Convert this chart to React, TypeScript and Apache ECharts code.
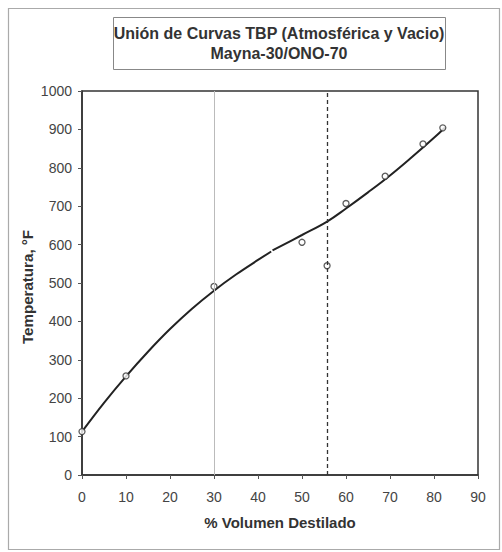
import React, { useEffect, useRef } from "react";
import * as echarts from "echarts";

// Observed TBP points (% volume distilled, temperature °F)
const pointX = [0, 10, 30, 50, 55.7, 60, 68.9, 77.5, 82];
const pointY = [113, 258, 491, 606, 545, 707, 778, 862, 904];

// Fitted curve – atmospheric part
const atmX = [0, 5, 10, 15, 20, 25, 30, 35, 40, 43];
const atmY = [113, 188, 257, 321, 380, 433, 480, 522, 560, 582];

// Fitted curve – vacuum part
const vacX = [43.3, 50, 55.7, 60, 65, 70, 75, 80, 82.5];
const vacY = [585, 625, 660, 694, 736, 780, 828, 878, 905];

const xTicks = [0, 10, 20, 30, 40, 50, 60, 70, 80, 90];
const yTicks = [0, 100, 200, 300, 400, 500, 600, 700, 800, 900, 1000];

const cutX = 55.7;
const refX = 30;

const FONT = "Liberation Sans, Arial, sans-serif";

export default function App() {
  const ref = useRef<HTMLDivElement>(null);
  useEffect(() => {
    document.body.style.margin = "0";
    const chart = echarts.init(ref.current!, null, { renderer: "svg" });
    const toPairs = (xs: number[], ys: number[]) => xs.map((x, i) => [x, ys[i]]);
    chart.setOption({
      animation: false,
      backgroundColor: "#ffffff",
      textStyle: { fontFamily: FONT },
      grid: {
        left: 82,
        top: 91,
        width: 396,
        height: 384,
        show: true,
        borderColor: "#333",
        borderWidth: 1.5,
        containLabel: false,
      },
      xAxis: {
        type: "value",
        min: xTicks[0],
        max: xTicks[xTicks.length - 1],
        interval: 10,
        name: "% Volumen Destilado",
        nameLocation: "middle",
        nameGap: 40,
        nameTextStyle: { fontFamily: FONT, fontSize: 15, fontWeight: "bold", color: "#333" },
        axisLine: { show: true, lineStyle: { color: "#333", width: 1.5 } },
        axisTick: { show: true, length: 4, lineStyle: { color: "#555" } },
        axisLabel: {
          fontFamily: FONT,
          fontSize: 14,
          color: "#444",
          margin: 15,
          formatter: (v: number) => String(v),
        },
        splitLine: { show: false },
      },
      yAxis: {
        type: "value",
        min: yTicks[0],
        max: yTicks[yTicks.length - 1],
        interval: 100,
        axisLine: { show: true, lineStyle: { color: "#333", width: 1.5 } },
        axisTick: { show: true, length: 4, lineStyle: { color: "#555" } },
        axisLabel: {
          fontFamily: FONT,
          fontSize: 14,
          color: "#444",
          margin: 10,
          formatter: (v: number) => String(v),
        },
        splitLine: { show: false },
      },
      graphic: [
        {
          type: "rect",
          shape: { x: 8.5, y: 8.5, width: 491, height: 541 },
          style: { fill: "none", stroke: "#aaa", lineWidth: 1.2 },
          silent: true,
        },
        {
          type: "rect",
          shape: { x: 113.5, y: 17.5, width: 332, height: 52 },
          style: { fill: "#fff", stroke: "#888", lineWidth: 1 },
          silent: true,
        },
        {
          type: "text",
          x: 279,
          y: 33,
          style: {
            text: "Unión de Curvas TBP (Atmosférica y Vacio)",
            fontFamily: FONT,
            fontSize: 16,
            fontWeight: "bold",
            fill: "#333",
            align: "center",
            verticalAlign: "middle",
          },
          silent: true,
        },
        {
          type: "text",
          x: 279,
          y: 53,
          style: {
            text: "Mayna-30/ONO-70",
            fontFamily: FONT,
            fontSize: 16,
            fontWeight: "bold",
            fill: "#333",
            align: "center",
            verticalAlign: "middle",
          },
          silent: true,
        },
        {
          type: "text",
          x: 28,
          y: 287,
          rotation: Math.PI / 2,
          scaleX: 1.08,
          style: {
            text: "Temperatura, °F",
            fontFamily: FONT,
            fontSize: 14,
            fontWeight: "bold",
            fill: "#333",
            align: "center",
            verticalAlign: "middle",
          },
          silent: true,
        },
      ],
      series: [
        {
          type: "line",
          data: toPairs(atmX, atmY),
          smooth: 0.4,
          showSymbol: false,
          lineStyle: { color: "#222", width: 2 },
          markLine: {
            silent: true,
            symbol: "none",
            label: { show: false },
            data: [
              { xAxis: refX, lineStyle: { color: "#bbb", width: 1, type: "solid" } },
              { xAxis: cutX, lineStyle: { color: "#333", width: 1.3, type: [4, 3] } },
            ],
          },
          z: 3,
        },
        {
          type: "line",
          data: toPairs(vacX, vacY),
          smooth: 0.4,
          showSymbol: false,
          lineStyle: { color: "#222", width: 2 },
          z: 3,
        },
        {
          type: "scatter",
          data: toPairs(pointX, pointY),
          symbol: "circle",
          symbolSize: 6,
          itemStyle: { color: "#fff", borderColor: "#333", borderWidth: 1.3 },
          z: 4,
        },
      ],
    });
    return () => chart.dispose();
  }, []);
  return (
    <div
      ref={ref}
      style={{ position: "fixed", left: 0, top: 0, width: 502, height: 552 }}
    />
  );
}
